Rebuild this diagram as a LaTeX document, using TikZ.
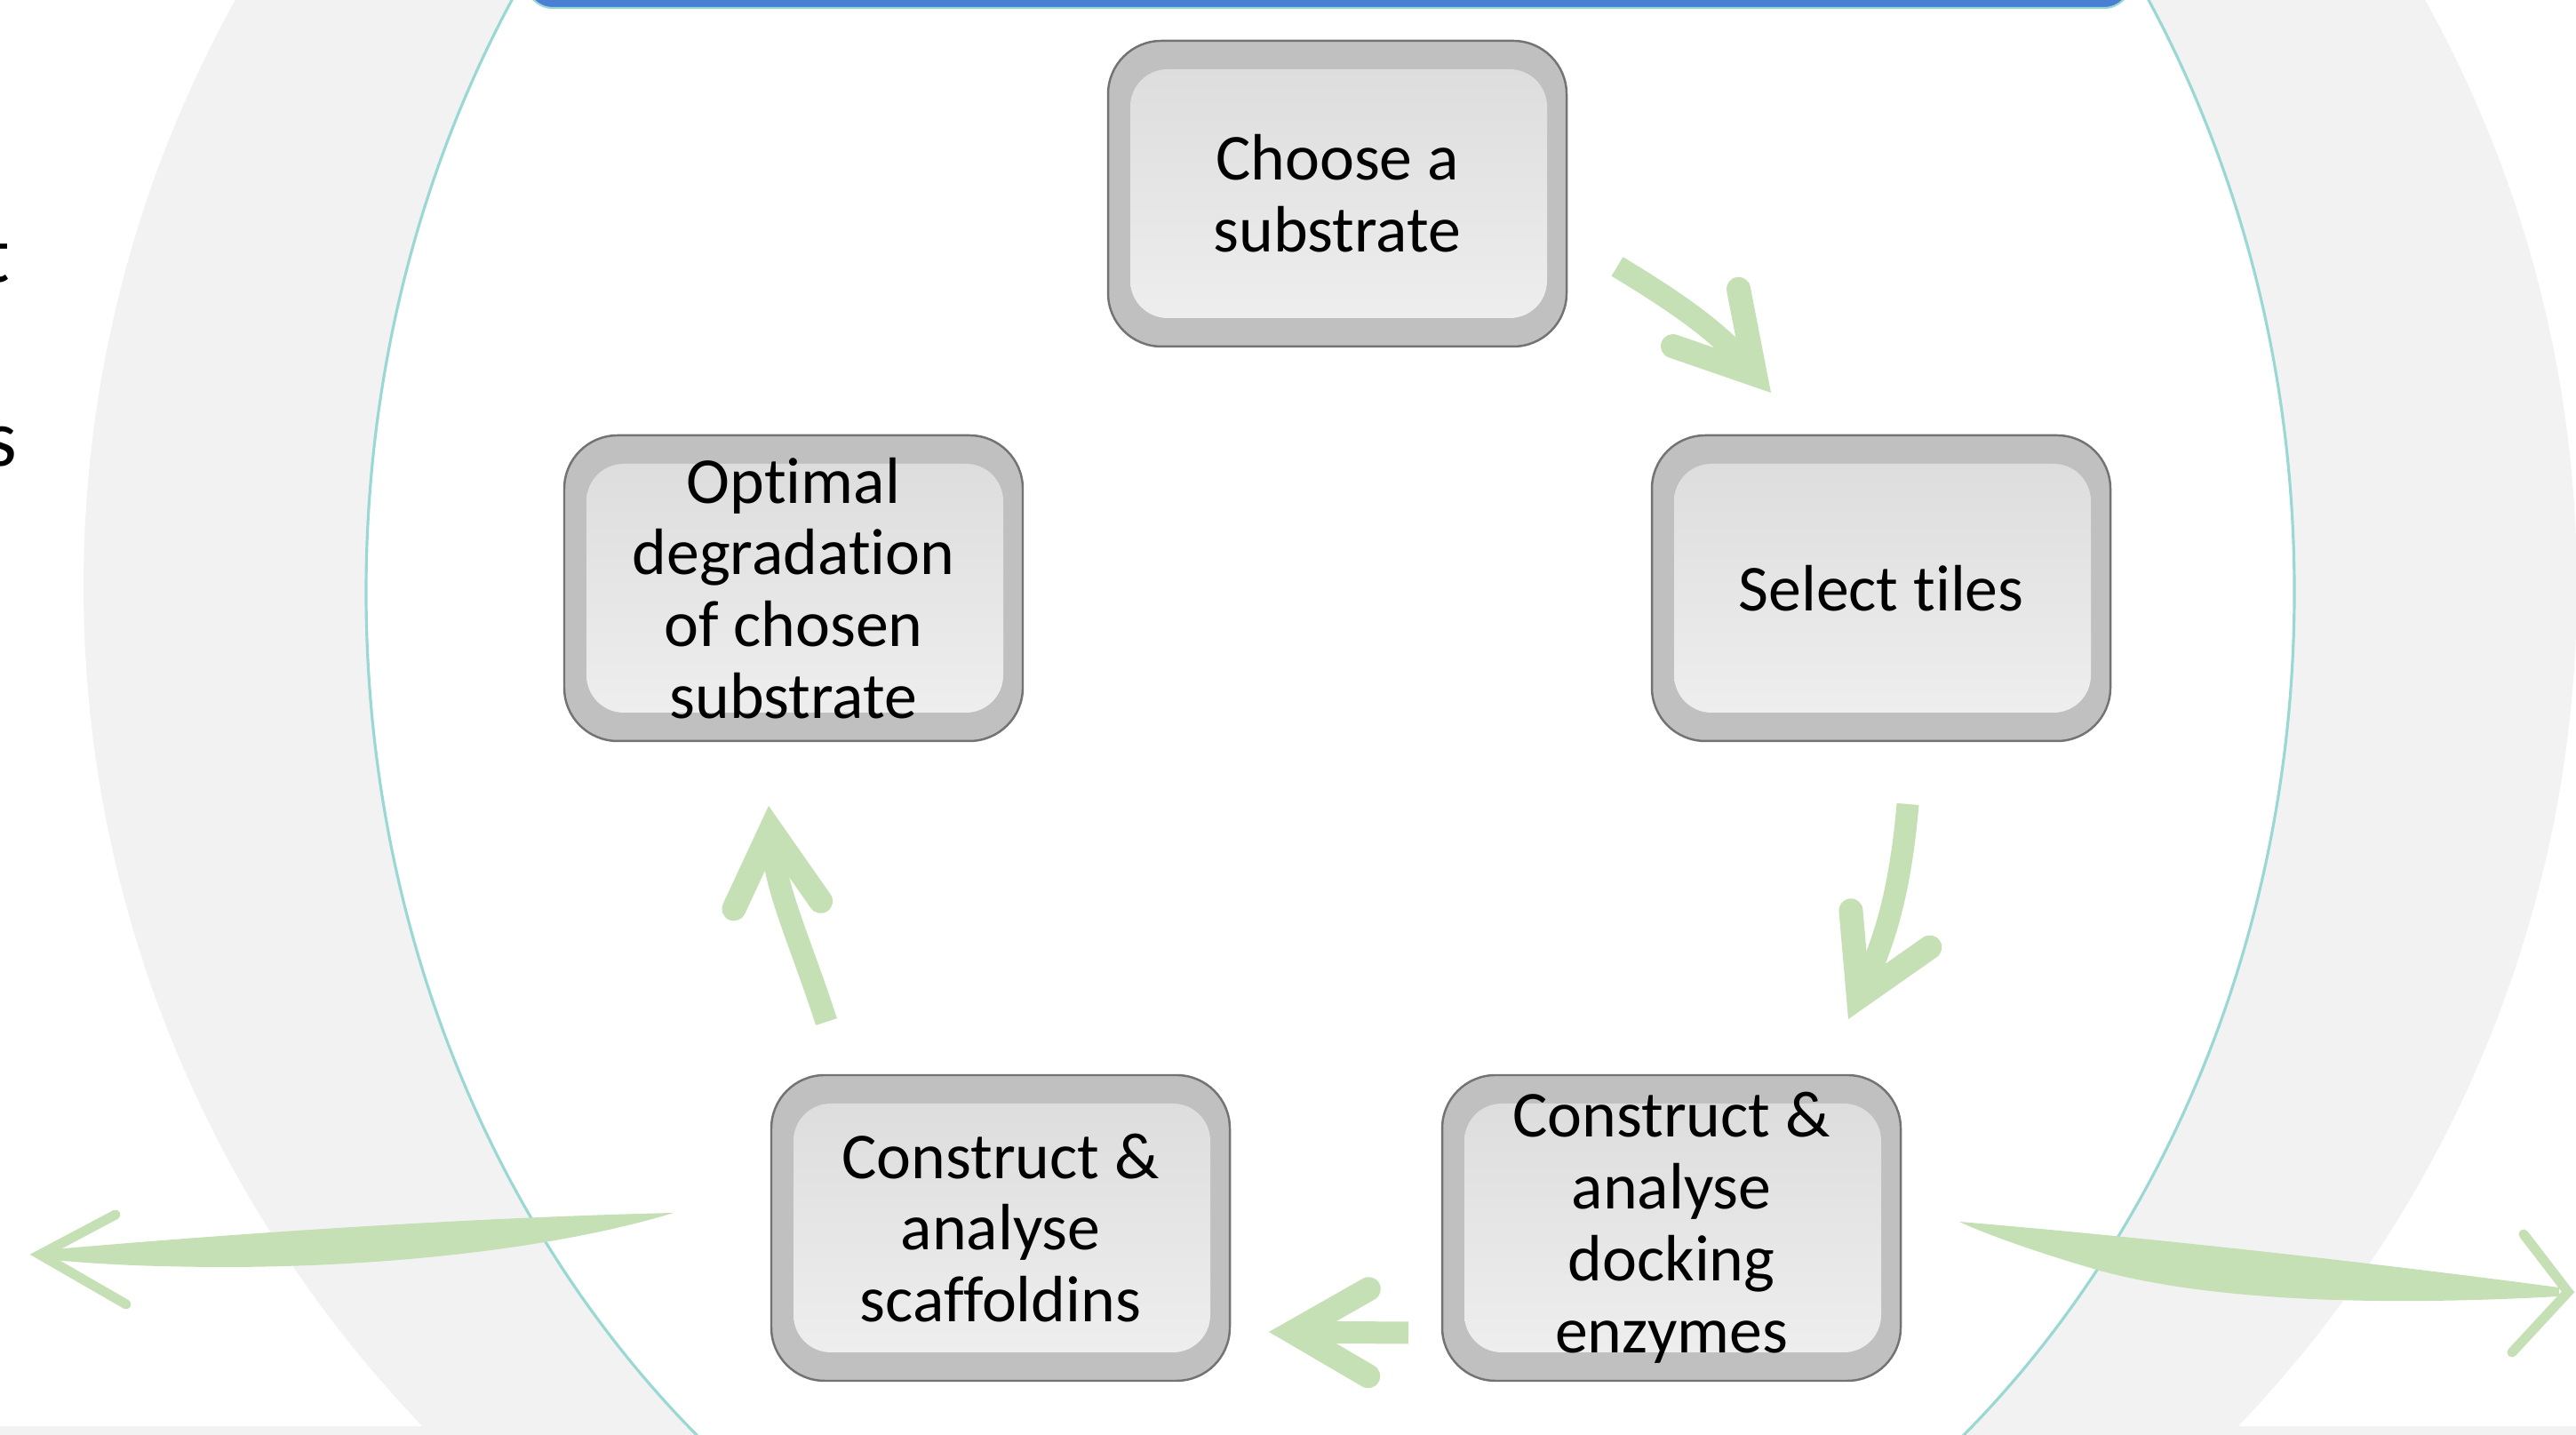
\documentclass[tikz,border=0pt]{standalone}
\usepackage{fontspec}
\setmainfont{Carlito}[Ligatures=NoCommon]
\usepackage{tikz}
\usetikzlibrary{arrows.meta}
\definecolor{verdeflecha}{HTML}{C5E0B4}
\definecolor{grisbanda}{HTML}{F2F2F2}
\definecolor{turquesa}{HTML}{9AD8D4}
\definecolor{azulbarra}{HTML}{4A7FD3}
\definecolor{bisel}{HTML}{C0C0C0}
\tikzstyle{paso} = [draw=black!55, line width=0.7pt, fill=bisel, rounded corners=0.6cm,
  minimum width=5.16cm, minimum height=3.44cm, align=center, inner sep=0pt,
  font=\fontsize{21pt}{23pt}\selectfont,
  path picture={\shade[top color=black!14, bottom color=black!6, rounded corners=0.42cm]
    ([xshift=0.25cm,yshift=-0.32cm]path picture bounding box.north west) rectangle
    ([xshift=-0.22cm,yshift=0.32cm]path picture bounding box.south east);}]
\tikzstyle{flecha} = [verdeflecha, line width=0.25cm,
  -{Straight Barb[length=0.85cm, width=0.98cm, line width=0.27cm, line cap=round, line join=miter]}]
\tikzstyle{punta} = [verdeflecha, line width=0.11cm, line cap=round, line join=miter]

\begin{document}
\begin{tikzpicture}
		\useasboundingbox (0,0) rectangle (28.99,16.15);
		% fondo: banda gris y elipse blanca
		\begin{scope}
			\clip (0,0.1) rectangle (28.99,16.15);
			\fill[grisbanda] (14.97,9.55) ellipse [x radius=14.03, y radius=13.79];
		\end{scope}
		\fill[grisbanda] (0,0) rectangle (28.99,0.1);
		\filldraw[fill=white, draw=turquesa, line width=0.9pt] 
		(14.97,9.49) ellipse [x radius=10.85, y radius=12.59];
		\filldraw[fill=azulbarra, draw=turquesa, line width=0.6pt, rounded corners=0.3cm] 
		(5.92,16.06) rectangle (23.98,16.9);
		% restos de texto
		\node[anchor=base east, inner sep=0pt, font=\fontsize{26pt}{28pt}\selectfont] (restot) at (0.12,12.97) {t};
		\node[anchor=base east, inner sep=0pt, font=\fontsize{26pt}{28pt}\selectfont] (restos) at (0.20,10.90) {s};
		% pasos del ciclo
		\foreach \Nombre/\Xc/\Yc/\Texto in 
		{sustrato/15.05/13.97/{Choose a\\substrate},
		 teselas/21.17/9.53/{Select tiles},
		 enzimas/18.81/2.33/{Construct \&\\analyse\\docking\\enzymes},
		 andamios/11.26/2.33/{Construct \&\\analyse\\scaffoldins},
		 optima/8.93/9.53/{Optimal\\degradation\\of chosen\\substrate}}
		{
			\node[paso] (\Nombre) at (\Xc,\Yc) {\Texto};
		}
		% flechas del ciclo
		\coordinate (f1a) at (18.20,13.15);
		\coordinate (f1b) at (19.93,11.73);
		\coordinate (f2a) at (21.47,7.10);
		\coordinate (f2b) at (20.80,4.68);
		\coordinate (f3a) at (15.85,1.15);
		\coordinate (f3b) at (14.28,1.16);
		\coordinate (f4a) at (9.30,4.65);
		\coordinate (f4b) at (8.65,7.08);
		\draw[flecha] (f1a) to[out=-31, in=131] (f1b);
		\draw[flecha] (f2a) to[out=-95, in=65] (f2b);
		\draw[flecha] (f3a) -- (f3b);
		\draw[flecha] (f4a) to[out=108, in=-85] (f4b);
		% flechas laterales
		\coordinate (izqpunta) at (0.45,2.03);
		\coordinate (izqcola) at (7.58,2.50);
		\fill[verdeflecha] (0.50,2.08) .. controls (3.0,2.30) and (5.5,2.45) .. (izqcola) 
		.. controls (6.4,2.14) and (4.6,1.90) .. (2.6,1.89) 
		.. controls (1.5,1.89) and (0.9,1.94) .. (0.50,1.98) -- cycle;
		\draw[punta] (1.30,2.48) -- (izqpunta) -- (1.42,1.47);
		\coordinate (derpunta) at (28.90,1.61);
		\coordinate (dercola) at (22.05,2.40);
		\fill[verdeflecha] (dercola) .. controls (23.6,2.27) and (26.0,2.03) .. (28.80,1.66) 
		-- (28.80,1.56) .. controls (27.0,1.46) and (25.0,1.48) .. (23.63,1.85) 
		.. controls (22.9,2.06) and (22.3,2.28) .. (dercola) -- cycle;
		\draw[punta] (28.40,2.26) -- (derpunta) -- (28.27,0.93);
\end{tikzpicture}
\end{document}
